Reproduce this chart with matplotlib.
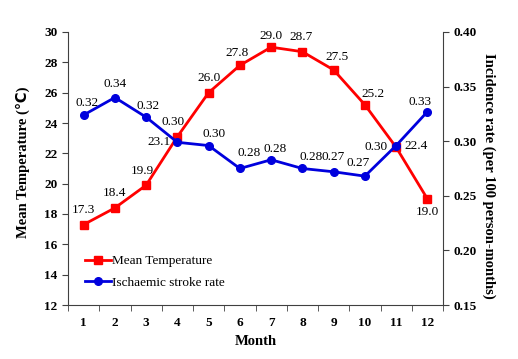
import matplotlib
matplotlib.use("Agg")
import matplotlib.pyplot as plt

months = [1, 2, 3, 4, 5, 6, 7, 8, 9, 10, 11, 12]
temperature = [17.3, 18.4, 19.9, 23.1, 26.0, 27.8, 29.0, 28.7, 27.5, 25.2, 22.4, 19.0]
stroke_rate = [0.324, 0.340, 0.322, 0.299, 0.296, 0.275, 0.283, 0.275, 0.272, 0.268, 0.296, 0.327]
stroke_labels = ["0.32", "0.34", "0.32", "0.30", "0.30", "0.28", "0.28", "0.28", "0.27", "0.27", "0.30", "0.33"]
temp_labels = ["17.3", "18.4", "19.9", "23.1", "26.0", "27.8", "29.0", "28.7", "27.5", "25.2", "22.4", "19.0"]

plt.rcParams['font.family'] = ['Liberation Serif', 'DejaVu Sans']

fig = plt.figure(figsize=(5.18, 3.59), dpi=100)
ax = fig.add_axes([68/518, (359-305)/359, 375/518, 273/359])
ax2 = ax.twinx()

spine_col = '#404040'
red = '#ff0000'
blue = '#0000dd'

ax.plot(months, temperature, color=red, lw=2.0, marker='s', ms=5.5, label='Mean Temperature', zorder=3)
ax2.plot(months, stroke_rate, color=blue, lw=2.0, marker='o', ms=5.5, label='Ischaemic stroke rate', zorder=3)

ax.set_xlim(0.5, 12.5)
ax.set_ylim(12, 30)
ax.set_yticks(range(12, 31, 2))
ax2.set_ylim(0.15, 0.40)
ax2.set_yticks([0.15, 0.20, 0.25, 0.30, 0.35, 0.40])
ax2.set_yticklabels([f"{v:.2f}" for v in [0.15, 0.20, 0.25, 0.30, 0.35, 0.40]])

ax.set_xticks(months)
ax.set_xticks([m + 0.5 for m in range(0, 13)], minor=True)
ax.tick_params(axis='x', which='major', length=0, pad=9)
ax.tick_params(axis='x', which='minor', length=4, direction='out', color=spine_col)
ax.tick_params(axis='y', length=4, direction='out', color=spine_col)
ax2.tick_params(axis='y', length=4, direction='out', color=spine_col)

for a in (ax, ax2):
    for lab in a.get_xticklabels() + a.get_yticklabels():
        lab.set_fontweight('bold')
        lab.set_fontsize(9.5)
    a.spines['top'].set_visible(False)
    for s in ('left', 'right', 'bottom'):
        a.spines[s].set_color(spine_col)
ax.spines['right'].set_visible(False)
ax2.spines['left'].set_visible(False)
ax2.spines['bottom'].set_visible(False)

ax.set_xlabel('Month', fontsize=10.5, fontweight='bold', labelpad=4)
ax.set_ylabel('Mean Temperature (℃)', fontsize=10.5, fontweight='bold')
ax.yaxis.set_label_coords(-0.10, 0.524)
ax2.set_ylabel('Incidence rate (per 100 person-months)', fontsize=10.5, fontweight='bold', rotation=-90)
ax2.yaxis.set_label_coords(1.14, 0.473)

temp_off = [(0, 15), (0, 15), (-4, 14), (-18, -5), (0, 15), (-3, 12), (0, 11), (-1, 15), (3, 13), (8, 11), (20, 1), (0, -13)]
rate_off = [(3, 12), (0, 14), (2, 11), (-4, 20), (5, 12), (9, 15), (4, 11), (9, 11), (0, 15), (-7, 13), (-20, -1), (-7, 10)]
px2pt = 72 / 100
for m, v, t, (dx, dy) in zip(months, temperature, temp_labels, temp_off):
    ax.annotate(t, (m, v), xytext=(dx * px2pt, dy * px2pt), textcoords='offset points',
                ha='center', va='center', fontsize=9.5, zorder=5)
for m, v, t, (dx, dy) in zip(months, stroke_rate, stroke_labels, rate_off):
    ax2.annotate(t, (m, v), xytext=(dx * px2pt, dy * px2pt), textcoords='offset points',
                 ha='center', va='center', fontsize=9.5, zorder=5)

h1, l1 = ax.get_legend_handles_labels()
h2, l2 = ax2.get_legend_handles_labels()
ax2.legend(h1 + h2, l1 + l2, loc='lower left', bbox_to_anchor=(0.03, 0.04), frameon=False,
           fontsize=9.5, handlelength=2.0, handletextpad=0.1, labelspacing=0.7, borderaxespad=0)

fig.savefig('out.png', dpi=100)
